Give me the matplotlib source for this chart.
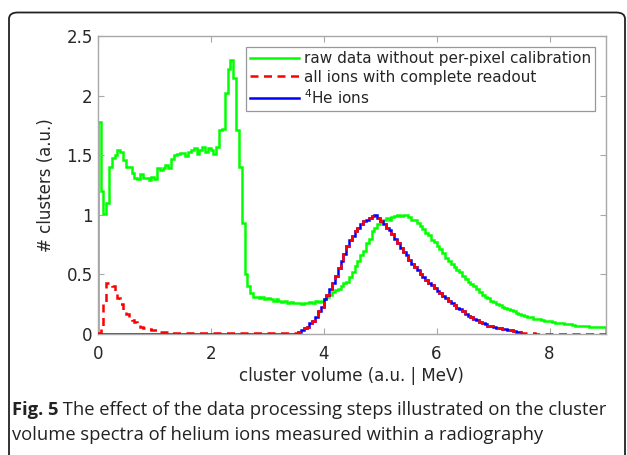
import numpy as np
import matplotlib
matplotlib.use("Agg")
import matplotlib.pyplot as plt
from matplotlib.patches import FancyBboxPatch

plt.rcParams["font.family"] = ["DejaVu Sans"]

# bin width 0.05, range 0..9
bin_width = 0.05
raw = [
    1.78, 1.20, 1.01, 1.10, 1.40, 1.48, 1.50, 1.54, 1.53, 1.46,
    1.40, 1.40, 1.35, 1.31, 1.30, 1.34, 1.31, 1.31, 1.29, 1.32,
    1.30, 1.39, 1.38, 1.39, 1.42, 1.39, 1.47, 1.50, 1.51, 1.52,
    1.52, 1.49, 1.53, 1.54, 1.56, 1.51, 1.54, 1.57, 1.53, 1.56,
    1.54, 1.51, 1.57, 1.71, 1.72, 2.02, 2.22, 2.30, 2.15, 1.71,
    1.40, 0.93, 0.50, 0.40, 0.34, 0.31, 0.31, 0.30, 0.31, 0.29,
    0.30, 0.29, 0.28, 0.29, 0.28, 0.27, 0.28, 0.26, 0.27, 0.26,
    0.26, 0.26, 0.25, 0.26, 0.26, 0.27, 0.26, 0.28, 0.27, 0.28,
    0.29, 0.31, 0.33, 0.35, 0.37, 0.38, 0.40, 0.43, 0.44, 0.48,
    0.52, 0.57, 0.61, 0.66, 0.70, 0.76, 0.80, 0.86, 0.89, 0.92,
    0.94, 0.96, 0.97, 0.96, 0.98, 0.99, 1.00, 0.99, 1.00, 1.00,
    0.98, 0.96, 0.96, 0.93, 0.91, 0.88, 0.85, 0.83, 0.79, 0.77,
    0.74, 0.71, 0.68, 0.64, 0.61, 0.59, 0.56, 0.54, 0.52, 0.49,
    0.46, 0.44, 0.42, 0.40, 0.38, 0.355, 0.33, 0.31, 0.30, 0.28,
    0.27, 0.25, 0.24, 0.23, 0.22, 0.21, 0.20, 0.19, 0.18, 0.17,
    0.16, 0.15, 0.145, 0.14, 0.13, 0.13, 0.125, 0.12, 0.11, 0.11,
    0.105, 0.10, 0.095, 0.09, 0.09, 0.085, 0.08, 0.08, 0.075, 0.07,
    0.07, 0.07, 0.065, 0.065, 0.06, 0.06, 0.06, 0.055, 0.055, 0.055,
]
all_ions = [
    0.01, 0.06, 0.25, 0.43, 0.43, 0.40, 0.35, 0.30, 0.25, 0.20,
    0.17, 0.14, 0.12, 0.10, 0.08, 0.06, 0.05, 0.045, 0.04, 0.035,
    0.03, 0.025, 0.02, 0.02, 0.015, 0.015, 0.01, 0.01, 0.01, 0.01,
    0.005, 0.005, 0.005, 0.005, 0.005, 0.005, 0.005, 0.005, 0.005, 0.005,
    0.005, 0.005, 0.005, 0.005, 0.005, 0.005, 0.005, 0.005, 0.005, 0.005,
    0.005, 0.005, 0.005, 0.005, 0.005, 0.005, 0.005, 0.005, 0.005, 0.005,
    0.005, 0.005, 0.005, 0.005, 0.005, 0.005, 0.005, 0.005, 0.005, 0.005,
    0.005, 0.02, 0.03, 0.05, 0.06, 0.09, 0.11, 0.14, 0.19, 0.23,
    0.29, 0.33, 0.38, 0.43, 0.49, 0.55, 0.61, 0.67, 0.74, 0.79,
    0.82, 0.86, 0.89, 0.92, 0.95, 0.96, 0.97, 0.99, 0.99, 0.97,
    0.95, 0.92, 0.89, 0.87, 0.84, 0.80, 0.76, 0.72, 0.69, 0.66,
    0.62, 0.59, 0.56, 0.54, 0.50, 0.48, 0.45, 0.43, 0.41, 0.39,
    0.36, 0.34, 0.32, 0.30, 0.28, 0.26, 0.24, 0.22, 0.21, 0.19,
    0.17, 0.155, 0.14, 0.13, 0.115, 0.10, 0.09, 0.08, 0.07, 0.065,
    0.06, 0.05, 0.05, 0.04, 0.04, 0.035, 0.03, 0.025, 0.02, 0.015,
    0.01, 0.008, 0.006, 0.005, 0.005, 0.004, 0.004, 0.004, 0.003, 0.003,
    0.003, 0.003, 0.003, 0.003, 0.003, 0.003, 0.003, 0.003, 0.003, 0.003,
    0.003, 0.003, 0.003, 0.003, 0.003, 0.003, 0.003, 0.003, 0.003, 0.003,
]
he4 = [
    0.0, 0.0, 0.0, 0.0, 0.0, 0.0, 0.0, 0.0, 0.0, 0.0,
    0.0, 0.0, 0.0, 0.0, 0.0, 0.0, 0.0, 0.0, 0.0, 0.0,
    0.0, 0.0, 0.0, 0.0, 0.0, 0.0, 0.0, 0.0, 0.0, 0.0,
    0.0, 0.0, 0.0, 0.0, 0.0, 0.0, 0.0, 0.0, 0.0, 0.0,
    0.0, 0.0, 0.0, 0.0, 0.0, 0.0, 0.0, 0.0, 0.0, 0.0,
    0.0, 0.0, 0.0, 0.0, 0.0, 0.0, 0.0, 0.0, 0.0, 0.0,
    0.0, 0.0, 0.0, 0.0, 0.0, 0.0, 0.0, 0.0, 0.0, 0.0,
    0.0, 0.02, 0.03, 0.05, 0.06, 0.09, 0.11, 0.14, 0.19, 0.23,
    0.29, 0.33, 0.38, 0.43, 0.49, 0.55, 0.61, 0.67, 0.74, 0.79,
    0.82, 0.86, 0.89, 0.92, 0.95, 0.96, 0.97, 0.99, 1.00, 0.97,
    0.95, 0.92, 0.89, 0.87, 0.84, 0.80, 0.76, 0.72, 0.69, 0.66,
    0.62, 0.59, 0.56, 0.54, 0.50, 0.48, 0.45, 0.43, 0.41, 0.39,
    0.36, 0.34, 0.32, 0.30, 0.28, 0.26, 0.24, 0.22, 0.21, 0.19,
    0.17, 0.155, 0.14, 0.13, 0.115, 0.10, 0.09, 0.08, 0.07, 0.065,
    0.06, 0.05, 0.05, 0.04, 0.04, 0.035, 0.03, 0.025, 0.02, 0.015,
]
labels = ["raw data without per-pixel calibration",
          "all ions with complete readout",
          r"$^{4}$He ions"]
caption_bold = "Fig. 5"
caption_rest = (" The effect of the data processing steps illustrated on the cluster\n"
                "volume spectra of helium ions measured within a radiography")


def edges_for(vals):
    return np.arange(len(vals) + 1) * bin_width


fig = plt.figure(figsize=(6.27, 4.55), dpi=100)

# rounded frame around the figure, open at the bottom
frame = FancyBboxPatch((9 / 627, -0.2), 616 / 627, 1.2 - 12.5 / 455,
                       boxstyle="round,pad=0,rounding_size=0.014",
                       transform=fig.transFigure, fill=False,
                       edgecolor="#222222", linewidth=1.3, clip_on=False)
fig.patches.append(frame)

ax = fig.add_axes([97.7 / 627, 1 - 334 / 455, 508.3 / 627, 298 / 455])

ax.stairs(raw, edges_for(raw), color="#00ff00", linewidth=1.8, label=labels[0])
ax.stairs(all_ions, edges_for(all_ions), color="#ff0000", linewidth=1.8,
          linestyle=(0, (3.2, 2.2)), label=labels[1], zorder=3)
ax.stairs(he4, edges_for(he4), color="#0000ff", linewidth=1.8, label=labels[2],
          zorder=2)

ax.set_xlim(0, 9)
ax.set_ylim(0, 2.5)
ax.set_xticks([0, 2, 4, 6, 8])
ax.set_yticks([0, 0.5, 1, 1.5, 2, 2.5])
ax.set_yticklabels(["0", "0.5", "1", "1.5", "2", "2.5"])
ax.tick_params(direction="in", top=True, right=True, length=4,
               color="#a8a8a8", labelcolor="#262626", labelsize=12)
ax.tick_params(axis="x", pad=8)
for s in ax.spines.values():
    s.set_color("#a8a8a8")
    s.set_linewidth(1.0)
ax.set_xlabel("cluster volume (a.u. | MeV)", fontsize=12, color="#262626",
              labelpad=3)
ax.set_ylabel("# clusters (a.u.)", fontsize=12, color="#262626", labelpad=8)

leg = ax.legend(loc="upper right", fontsize=11, frameon=True, fancybox=False,
                edgecolor="#7f7f7f", handlelength=3.2, handletextpad=0.3,
                labelspacing=0.22, borderpad=0.3, borderaxespad=0.7)
leg.get_frame().set_linewidth(0.9)
for t in leg.get_texts():
    t.set_color("#262626")

cap_font = ["Open Sans", "DejaVu Sans"]
cap_size = 13.25
t1 = fig.text(12 / 627, 1 - 415 / 455, caption_bold, fontsize=cap_size,
              fontweight="bold", family=cap_font, color="#222222",
              va="baseline")
fig.canvas.draw()
bb = t1.get_window_extent()
x_after = bb.x1 / fig.bbox.width
lines = caption_rest.split("\n")
fig.text(x_after, 1 - 415 / 455, lines[0], fontsize=cap_size, family=cap_font,
         color="#222222", va="baseline")
fig.text(12 / 627, 1 - 440 / 455, lines[1], fontsize=cap_size, family=cap_font,
         color="#222222", va="baseline")

fig.savefig("out.png", dpi=100)
